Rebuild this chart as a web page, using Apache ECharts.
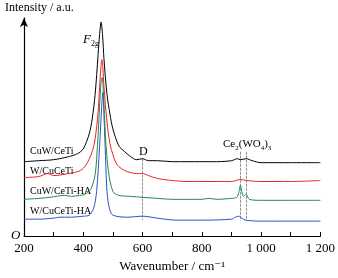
<!DOCTYPE html>
<html>
<head>
<meta charset="utf-8">
<script src="https://cdn.jsdelivr.net/npm/echarts@6/dist/echarts.min.js"></script>
<style>
  html, body { margin: 0; padding: 0; background: #fff; }
  #main { width: 338px; height: 278px; }
</style>
</head>
<body>
<div id="main"></div>
<script>
// wavenumber / intensity (a.u., offset stacked)
var cuwCeti = [[200,75],[250,76],[300,77],[350,80],[380,83],[400,88],[420,103],[430,118],[440,143],[450,183],[455,203],[460,216],[465,203],[470,178],[480,143],[490,123],[500,108],[520,91],[540,85],[560,80],[580,77],[600,78],[620,76],[650,76],[700,75],[750,75],[800,75],[850,75],[900,76],[920,78],[930,77],[950,78],[970,76],[1000,74],[1100,74],[1200,74]];
var wCuceti = [[200,59],[250,60],[280,63],[300,61],[350,63],[390,66],[410,72],[430,85],[440,98],[450,125],[455,150],[460,172],[463,178],[466,170],[470,150],[480,115],[490,93],[500,82],[510,74],[520,70],[540,66],[560,64],[580,63],[600,63],[620,61],[650,58],[700,56],[750,55],[800,55],[850,55],[900,55],[930,57],[950,56],[1000,55],[1100,55],[1200,56]];
var cuwCetiHa = [[200,37],[250,38],[287,39],[337,41],[360,40],[388,41],[405,42],[425,47],[440,62],[448,92],[455,130],[460,155],[464,160],[468,145],[475,100],[485,65],[500,45],[520,41],[560,40],[600,39],[650,38],[700,37],[750,37],[800,37],[824,38],[850,37],[900,38],[918,39],[925,44],[930,51],[935,45],[940,40],[950,42],[960,37],[1000,36],[1100,36],[1200,36]];
var wCucetiHa = [[200,17],[250,17],[300,18],[320,19],[360,19],[400,20],[420,21],[435,28],[445,45],[455,90],[462,130],[466,145],[470,120],[475,80],[480,45],[488,28],[500,21],[550,19],[600,20],[650,18],[713,16],[800,16],[900,17],[913,19],[925,20],[935,18],[947,16],[1000,15],[1100,15],[1200,15]];

var seriesNames = ['CuW/CeTi', 'W/CuCeTi', 'CuW/CeTi-HA', 'W/CuCeTi-HA'];
var seriesColors = ['#000000', '#ee2222', '#1f8a4c', '#2a55c0'];
var xTickLabels = { 200: '200', 400: '400', 600: '600', 800: '800', 1000: '1 000', 1200: '1 200' };

var serif = '"Liberation Serif", "DejaVu Serif", serif';
var chart = echarts.init(document.getElementById('main'));

var dataList = [cuwCeti, wCuceti, cuwCetiHa, wCucetiHa];
var series = [];
for (var i = 0; i < dataList.length; i++) {
  series.push({
    type: 'line',
    name: seriesNames[i],
    data: dataList[i],
    smooth: 0.3,
    showSymbol: false,
    lineStyle: { color: seriesColors[i], width: 1 },
    z: 10 - i
  });
}
// reference lines (D band, Ce2(WO4)3 bands)
series[3].markLine = {
  silent: true,
  symbol: 'none',
  label: { show: false },
  lineStyle: { color: '#777', width: 0.8, type: [3, 1] },
  data: [
    [{ coord: [600, 78] }, { coord: [600, 16] }],
    [{ coord: [930, 85] }, { coord: [930, 16] }],
    [{ coord: [950, 85] }, { coord: [950, 16] }]
  ]
};

var option = {
  animation: false,
  grid: { left: 24, right: 16, top: 18, bottom: 40 },
  xAxis: {
    type: 'value',
    min: 200,
    max: 1200,
    interval: 100,
    name: 'Wavenumber / cm⁻¹',
    nameLocation: 'middle',
    nameGap: 24,
    nameTextStyle: { fontFamily: serif, fontSize: 13, color: '#000' },
    axisLine: { lineStyle: { color: '#000', width: 1.2 } },
    axisTick: { inside: true, length: 4, lineStyle: { color: '#000' } },
    axisLabel: {
      fontFamily: serif, fontSize: 13, color: '#000', margin: 6,
      formatter: function (v) { return xTickLabels[v] || ''; }
    },
    splitLine: { show: false }
  },
  yAxis: {
    type: 'value',
    min: 0,
    max: 220,
    axisLine: { show: true, symbol: ['none', 'arrow'], symbolSize: [6, 9], lineStyle: { color: '#000', width: 1.2 } },
    axisTick: { show: false },
    axisLabel: { show: false },
    splitLine: { show: false }
  },
  graphic: [
    { type: 'text', left: 5, top: 2, style: { text: 'Intensity / a.u.', font: '12px ' + serif, fill: '#000' } },
    { type: 'text', left: 11, top: 229, style: { text: 'O', font: 'italic 13px ' + serif, fill: '#000' } },
    { type: 'text', left: 30, top: 146, style: { text: 'CuW/CeTi', font: '10px ' + serif, fill: '#000' } },
    { type: 'text', left: 30, top: 166, style: { text: 'W/CuCeTi', font: '10px ' + serif, fill: '#000' } },
    { type: 'text', left: 30, top: 186, style: { text: 'CuW/CeTi-HA', font: '10px ' + serif, fill: '#000' } },
    { type: 'text', left: 30, top: 206, style: { text: 'W/CuCeTi-HA', font: '10px ' + serif, fill: '#000' } },
    { type: 'text', left: 139, top: 146, style: { text: 'D', font: '12px ' + serif, fill: '#000' } },
    {
      type: 'text', left: 83, top: 33,
      style: {
        text: '{f|F}{s|2g}',
        rich: {
          f: { font: 'italic 13px ' + serif, fill: '#000' },
          s: { font: '8px ' + serif, fill: '#000', padding: [8, 0, 0, 0] }
        }
      }
    },
    {
      type: 'text', left: 223, top: 139,
      style: {
        text: 'Ce{s|2}(WO{s|4}){s|3}',
        font: '11px ' + serif,
        fill: '#000',
        rich: { s: { font: '7px ' + serif, fill: '#000', padding: [7, 0, 0, 0] } }
      }
    }
  ],
  series: series
};

chart.setOption(option);
</script>
</body>
</html>
